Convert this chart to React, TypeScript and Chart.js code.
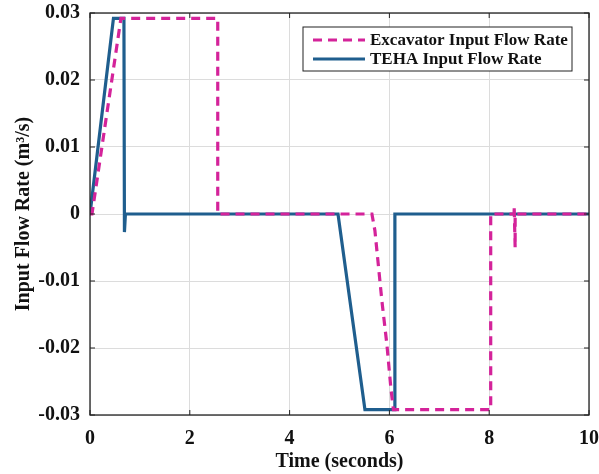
import React, { useEffect, useRef } from "react";
import { Chart, registerables } from "chart.js";

Chart.register(...registerables);

// Time (s) and flow rate (m^3/s) samples for each signal
const excavatorTime = [0, 0.04, 0.62, 0.66, 2.56, 2.56, 5.65, 5.71, 5.85, 5.95, 6.03, 6.08, 8.03, 8.03, 8.5, 8.5, 8.52, 8.52, 10];
const excavatorFlow = [0, 0, 0.0292, 0.0292, 0.0292, 0, 0, -0.0025, -0.013, -0.0195, -0.026, -0.0292, -0.0292, 0, 0, 0.0012, -0.005, 0, 0];

const tehaTime = [0, 0.47, 0.66, 0.68, 0.69, 0.71, 4.97, 5.51, 6.1, 6.11, 10];
const tehaFlow = [0, 0.0292, 0.0292, 0.0292, -0.0027, 0, 0, -0.0292, -0.0292, 0, 0];

const seriesNames = ["Excavator Input Flow Rate", "TEHA Input Flow Rate"];
const xTicks = [0, 2, 4, 6, 8, 10];
const yTicks = [-0.03, -0.02, -0.01, 0, 0.01, 0.02, 0.03];

const PINK = "#d4239a";
const BLUE = "#1f5e8e";
const FONT = "'Liberation Serif', 'Times New Roman', serif";

const toPoints = (xs: number[], ys: number[]) => xs.map((x, i) => ({ x, y: ys[i] }));

// Box around the plot, inward tick marks and a boxed legend in the top-right corner
const framePlugin = {
  id: "frame",
  afterDatasetsDraw(chart: any) {
    const { ctx, chartArea: a, scales } = chart;
    ctx.save();
    ctx.strokeStyle = "#222";
    ctx.lineWidth = 1.3;
    ctx.strokeRect(a.left, a.top, a.right - a.left, a.bottom - a.top);
    ctx.lineWidth = 1;
    const t = 5;
    ctx.beginPath();
    xTicks.forEach((v) => {
      const px = scales.x.getPixelForValue(v);
      ctx.moveTo(px, a.bottom); ctx.lineTo(px, a.bottom - t);
      ctx.moveTo(px, a.top); ctx.lineTo(px, a.top + t);
    });
    yTicks.forEach((v) => {
      const py = scales.y.getPixelForValue(v);
      ctx.moveTo(a.left, py); ctx.lineTo(a.left + t, py);
      ctx.moveTo(a.right, py); ctx.lineTo(a.right - t, py);
    });
    ctx.stroke();

    // legend
    const bx = 303, by = 27, bw = 269, bh = 44;
    ctx.fillStyle = "#fff";
    ctx.fillRect(bx, by, bw, bh);
    ctx.strokeStyle = "#222";
    ctx.lineWidth = 1;
    ctx.strokeRect(bx, by, bw, bh);
    const rows = [
      { color: PINK, dash: [9, 6], y: by + 13 },
      { color: BLUE, dash: [], y: by + 32 },
    ];
    ctx.font = `bold 17px ${FONT}`;
    ctx.textBaseline = "middle";
    rows.forEach((r, i) => {
      ctx.strokeStyle = r.color;
      ctx.lineWidth = 3;
      ctx.setLineDash(r.dash);
      ctx.beginPath();
      ctx.moveTo(bx + 10, r.y);
      ctx.lineTo(bx + 62, r.y);
      ctx.stroke();
      ctx.setLineDash([]);
      ctx.fillStyle = "#111";
      ctx.fillText(seriesNames[i], bx + 67, r.y + 1);
    });
    ctx.restore();
  },
};

export default function App() {
  const canvasRef = useRef<HTMLCanvasElement | null>(null);

  useEffect(() => {
    const canvas = canvasRef.current;
    if (!canvas) return;
    const chart = new Chart(canvas, {
      type: "line",
      data: {
        datasets: [
          {
            label: seriesNames[0],
            data: toPoints(excavatorTime, excavatorFlow),
            borderColor: PINK,
            borderWidth: 3.2,
            borderDash: [9, 6],
            pointRadius: 0,
            fill: false,
            tension: 0,
          },
          {
            label: seriesNames[1],
            data: toPoints(tehaTime, tehaFlow),
            borderColor: BLUE,
            borderWidth: 3.2,
            pointRadius: 0,
            fill: false,
            tension: 0,
          },
        ],
      },
      options: {
        responsive: false,
        animation: false,
        layout: { padding: { left: 0, right: 10, top: 13, bottom: 0 } },
        plugins: { legend: { display: false }, tooltip: { enabled: false } },
        scales: {
          x: {
            type: "linear",
            min: 0,
            max: 10,
            afterBuildTicks: (s: any) => { s.ticks = xTicks.map((v) => ({ value: v })); },
            afterFit: (s: any) => {
              s.height = 59;
              s.paddingLeft = 0;
              s.paddingRight = 0;
            },
            grid: { color: "#dcdcdc", drawTicks: false },
            border: { display: false },
            ticks: {
              padding: 12,
              color: "#111",
              font: { family: FONT, size: 20, weight: "bold" },
              callback: (v: any) => String(v),
            },
            title: {
              display: true,
              text: "Time (seconds)",
              color: "#111",
              padding: { top: 0, bottom: 0 },
              font: { family: FONT, size: 20, weight: "bold" },
            },
          },
          y: {
            type: "linear",
            min: -0.03,
            max: 0.03,
            afterBuildTicks: (s: any) => { s.ticks = yTicks.map((v) => ({ value: v })); },
            afterFit: (s: any) => {
              s.width = 90;
              s.paddingTop = 0;
              s.paddingBottom = 0;
            },
            grid: { color: "#dcdcdc", drawTicks: false },
            border: { display: false },
            ticks: {
              padding: 10,
              color: "#111",
              font: { family: FONT, size: 20, weight: "bold" },
              callback: (v: any) => (Math.abs(v) < 1e-9 ? "0" : Number(v).toFixed(2)),
            },
            title: {
              display: true,
              text: "Input Flow Rate (m³/s)",
              color: "#111",
              padding: { top: 12, bottom: 0 },
              font: { family: FONT, size: 20, weight: "bold" },
            },
          },
        },
      },
      plugins: [framePlugin],
    });
    return () => chart.destroy();
  }, []);

  return (
    <div style={{ position: "absolute", left: 0, top: 0, width: 599, height: 474, background: "#fff" }}>
      <canvas ref={canvasRef} width={599} height={474} />
    </div>
  );
}
